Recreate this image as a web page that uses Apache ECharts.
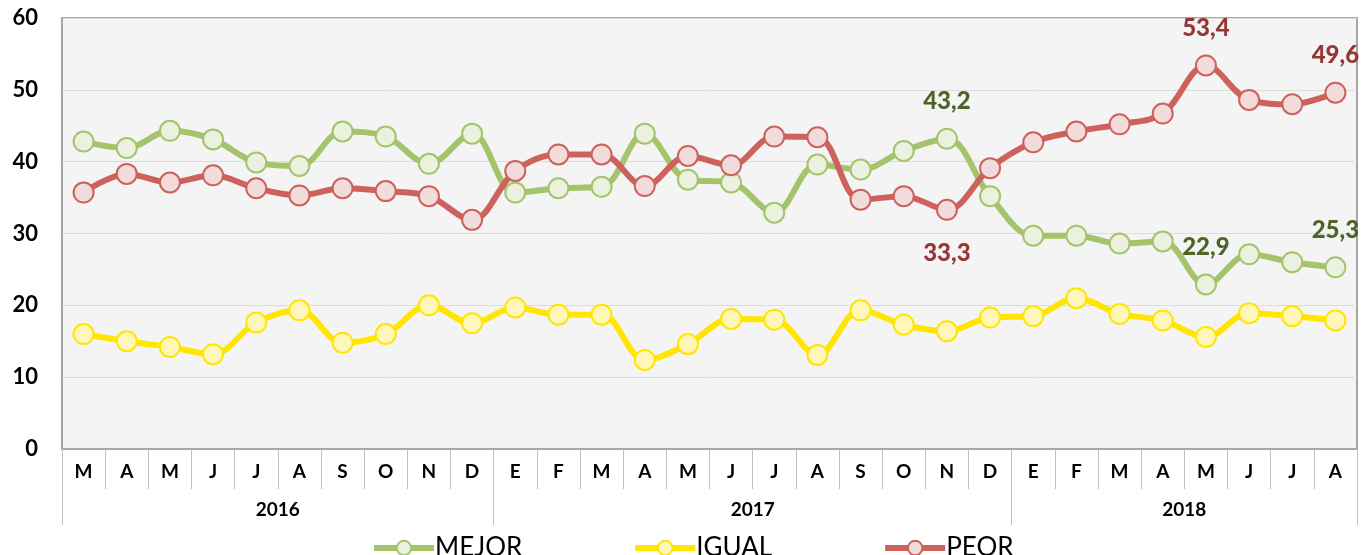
<!DOCTYPE html>
<html>
<head>
<meta charset="utf-8">
<script src="https://cdn.jsdelivr.net/npm/echarts@6/dist/echarts.min.js"></script>
<style>
html,body{margin:0;padding:0;background:#fff;}
#chart{width:1368px;height:555px;}
</style>
</head>
<body>
<div id="chart"></div>
<script>
const months = ['M','A','M','J','J','A','S','O','N','D','E','F','M','A','M','J','J','A','S','O','N','D','E','F','M','A','M','J','J','A'];
const years = ['2016','2017','2018'];
const monthsPerYear = [10,12,8];
const mejor = [42.8,41.9,44.3,43.1,39.9,39.4,44.2,43.5,39.7,43.9,35.7,36.3,36.5,43.9,37.5,37.1,32.9,39.6,38.9,41.5,43.2,35.2,29.7,29.7,28.6,28.9,22.9,27.1,26.0,25.3];
const igual = [16.0,15.0,14.2,13.2,17.6,19.3,14.8,16.0,20.0,17.5,19.7,18.7,18.7,12.4,14.6,18.1,18.0,13.1,19.3,17.3,16.4,18.3,18.5,21.0,18.8,17.9,15.6,18.9,18.5,17.9];
const peor = [35.7,38.3,37.1,38.1,36.3,35.3,36.3,35.9,35.2,31.9,38.7,41.0,41.0,36.6,40.8,39.5,43.5,43.4,34.7,35.2,33.3,39.1,42.7,44.2,45.2,46.7,53.4,48.6,48.0,49.6];
const mejorLabeled = {20:'top', 26:'top', 29:'top'};
const peorLabeled = {20:'bottom', 26:'top', 29:'top'};

const FONT = 'Lato, "Open Sans", sans-serif';
const NARROW = '"Liberation Sans Narrow", Lato, sans-serif';
const boundaries = [0];
const centers = [];
monthsPerYear.forEach(n => { const s = boundaries[boundaries.length-1]; centers.push(s + n/2); boundaries.push(s + n); });
const total = boundaries[boundaries.length-1];

function withLabels(arr, map, color){
  return arr.map((v,i) => map[i] ? {value:v, label:{show:true, position:map[i], distance: map[i]==='bottom'?20:14,
    color:color, fontSize:24, fontWeight:900, fontFamily:FONT,
    formatter: p => String(p.value.toFixed(1)).replace('.', ',')}} : v);
}

function mkSeries(name, data, line, fill){
  return {
    name, type:'line', data, smooth:0.35,
    symbol:'circle', symbolSize:20,
    lineStyle:{color:line, width:6},
    itemStyle:{color:fill, borderColor:line, borderWidth:2},
    emphasis:{disabled:true},
    animation:false
  };
}

const chart = echarts.init(document.getElementById('chart'));
chart.setOption({
  animation:false,
  grid:{left:62, right:11, top:18, bottom:106, show:true, backgroundColor:'#F4F4F4', borderColor:'#A6A6A6', borderWidth:2},
  legend:{
    top:530, left:366, itemWidth:60, itemHeight:18, itemGap:110,
    lineStyle:{width:6},
    textStyle:{fontSize:26, color:'#000', fontFamily:NARROW, padding:[0,0,0,-4]},
    data:['MEJOR','IGUAL','PEOR']
  },
  xAxis:[{
    type:'category', data:months, boundaryGap:true,
    axisLine:{show:true, lineStyle:{color:'#A6A6A6', width:2}},
    axisTick:{show:true, interval:0, length:40, lineStyle:{color:'#BFBFBF', width:1}},
    axisLabel:{interval:0, margin:13, fontSize:19, fontWeight:'bold', color:'#000', fontFamily:FONT},
    splitLine:{show:false}
  },{
    type:'value', min:0, max:total, position:'bottom',
    axisLine:{show:false},
    splitLine:{show:false},
    axisTick:{show:true, customValues:boundaries, length:76, lineStyle:{color:'#BFBFBF', width:1}},
    axisLabel:{customValues:centers, margin:51, fontSize:19, fontWeight:'bold', color:'#000', fontFamily:FONT,
      formatter: v => years[centers.indexOf(v)] || ''}
  }],
  yAxis:{
    type:'value', min:0, max:60, interval:10,
    axisLine:{show:true, lineStyle:{color:'#A6A6A6', width:2}},
    axisTick:{show:false},
    axisLabel:{margin:24, fontSize:22, fontWeight:'bold', color:'#000', fontFamily:FONT},
    splitLine:{show:true, lineStyle:{color:'#DCDCDC', width:1}}
  },
  series:[
    mkSeries('MEJOR', withLabels(mejor, mejorLabeled, '#4F6228'), '#A3C46A', '#EBF1DE'),
    mkSeries('IGUAL', igual, '#FFE500', '#FFF7BA'),
    mkSeries('PEOR', withLabels(peor, peorLabeled, '#953735'), '#CD625D', '#F2DCDB')
  ]
});
</script>
</body>
</html>
